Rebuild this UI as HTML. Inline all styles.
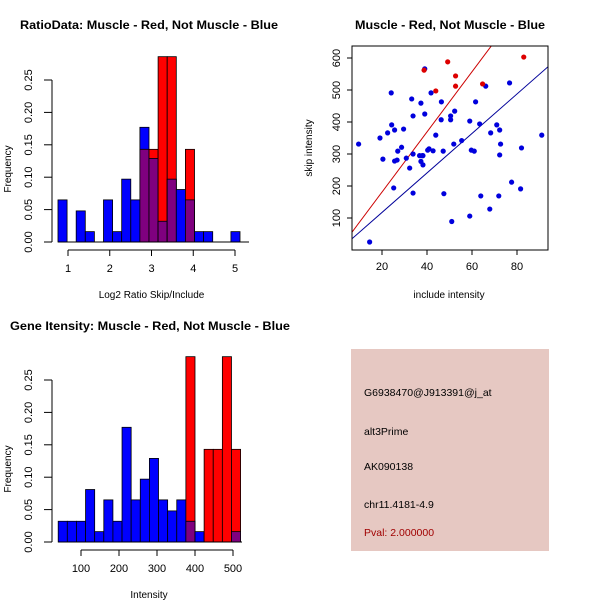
<!DOCTYPE html>
<html><head><meta charset="utf-8"><style>
html,body{margin:0;padding:0;background:#fff;}
svg{display:block;font-family:"Liberation Sans",sans-serif;}
</style></head><body>
<svg id="c" width="600" height="600" viewBox="0 0 600 600">
<rect width="600" height="600" fill="#fff"/>
<text x="149" y="29" text-anchor="middle" font-weight="bold" font-size="12" textLength="258" lengthAdjust="spacingAndGlyphs">RatioData: Muscle - Red, Not Muscle - Blue</text>
<text x="450" y="29" text-anchor="middle" font-weight="bold" font-size="12" textLength="190" lengthAdjust="spacingAndGlyphs">Muscle - Red, Not Muscle - Blue</text>
<text x="150" y="330" text-anchor="middle" font-weight="bold" font-size="12" textLength="280" lengthAdjust="spacingAndGlyphs">Gene Itensity: Muscle - Red, Not Muscle - Blue</text>
<g id="h1"></g>
<g id="h2"></g>
<g id="sc"></g>
<g>
<rect x="351" y="349" width="198" height="202" fill="#e6c8c2"/>
<text x="364" y="396" font-size="10.5">G6938470@J913391@j_at</text>
<text x="364" y="435" font-size="10.5">alt3Prime</text>
<text x="364" y="470" font-size="10.5">AK090138</text>
<text x="364" y="508" font-size="10.5">chr11.4181-4.9</text>
<text x="364" y="536" font-size="10.5" fill="#a00000">Pval: 2.000000</text>
</g>
</svg>
<script>
const ratioStart = 0.76, ratioWidth = 0.218;
const ratioBlue = [0.065,0,0.048,0.016,0,0.065,0.016,0.097,0.065,0.177,0.129,0.032,0.097,0.081,0.065,0.016,0.016,0,0,0.016];
const ratioRed  = [0,0,0,0,0,0,0,0,0,0.143,0.143,0.286,0.286,0,0.143,0,0,0,0,0];
const ratioTicks = [1,2,3,4,5];
const intStart = 40, intWidth = 24;
const intBlue = [0.032,0.032,0.032,0.081,0.016,0.065,0.032,0.177,0.065,0.097,0.129,0.065,0.048,0.065,0.032,0.016,0,0,0,0.016];
const intRed  = [0,0,0,0,0,0,0,0,0,0,0,0,0,0,0.286,0,0.143,0.143,0.286,0.143];
const intTicks = [100,200,300,400,500];
const freqTicks = [0,0.05,0.10,0.15,0.20,0.25];
const freqLabels = ["0.00","0.05","0.10","0.15","0.20","0.25"];
const blueX = [9.6,14.5,20.4,19.1,22.5,24.1,24.3,25.2,25.6,25.6,26.7,27,28.7,29.6,30.8,32.3,33.2,33.8,33.8,33.8,36.7,37.3,37.3,37.9,38.2,38.2,39,39,40.3,40.9,41.8,42.7,43.9,46.4,46.3,47.2,47.5,50.5,50.5,51,51.9,52.3,55.4,59,59,59.7,61,61.6,63.4,63.9,66.1,67.9,68.3,71,72.3,71.9,72.7,72.3,76.7,77.6,81.6,82,91];
const blueY = [331,25,284,350,366,491,391,194,375,278,281,309,321,378,287,256,472,419,300,178,295,459,277,295,266,295,566,425,312,316,491,310,359,463,407,309,176,419,407,89,331,434,342,403,106,312,309,463,394,169,512,128,366,391,375,169,331,297,522,212,191,319,359];
const redX = [38.7,43.9,49.2,52.7,52.7,64.7,83];
const redY = [562,497,588,544,512,519,603];
const redLine = [-7, 9.4];
const blueLine = [-6, 6.17];
const scXTicks = [20,40,60,80];
const scYTicks = [100,200,300,400,500,600];
const NS = "http://www.w3.org/2000/svg";
function mk(parent, tag, attrs){const e=document.createElementNS(NS,tag);for(const k in attrs)e.setAttribute(k,attrs[k]);parent.appendChild(e);return e;}
function txt(parent, x, y, s, size, rot){const t=mk(parent,'text',{x:x,y:y,'font-size':size,'text-anchor':'middle'});if(rot)t.setAttribute('transform','rotate(-90 '+x+' '+y+')');t.textContent=s;return t;}

function hist(g, o){
  const sx=v=>o.x0+(v-o.xv0)*o.xs, sy=v=>o.y0-v*o.ys;
  for(let i=0;i<o.blue.length;i++){
    const a=o.start+i*o.width, b=a+o.width, x=sx(a), w=sx(b)-x;
    const bv=o.blue[i], rv=o.red[i], m=Math.min(bv,rv);
    if(bv>0){const r=mk(g,'rect',{x:x,y:sy(bv),width:w,height:sy(0)-sy(bv),fill:'#0000ff',stroke:'#000','stroke-width':0.8});
      
      }
    if(rv>0){const r=mk(g,'rect',{x:x,y:sy(rv),width:w,height:sy(0)-sy(rv),fill:'#ff0000',stroke:'#000','stroke-width':0.8});
      
      }
    if(m>0){const r=mk(g,'rect',{x:x,y:sy(m),width:w,height:sy(0)-sy(m),fill:'#7f007f',stroke:'#000','stroke-width':0.8});
      
      }
  }
  const xa=mk(g,'g',{});
  
  
  const xt=o.ticks;
  mk(xa,'line',{x1:sx(xt[0]),x2:sx(xt[xt.length-1]),y1:o.axY,y2:o.axY,stroke:'#000'});
  xt.forEach(v=>{mk(xa,'line',{x1:sx(v),x2:sx(v),y1:o.axY,y2:o.axY+6,stroke:'#000'});txt(xa,sx(v),o.axY+22,String(v),11);});
  const xl=txt(g,(sx(xt[0])+sx(xt[xt.length-1]))/2+o.lblShift,o.axY+48,o.xlabel,10);
  
  
  const ya=mk(g,'g',{});
  
  
  mk(ya,'line',{x1:o.x0,x2:o.x0+o.yax,y1:sy(0),y2:sy(0),stroke:'#000'});
  freqTicks.forEach((v,i)=>{mk(ya,'line',{x1:44,x2:52,y1:sy(v),y2:sy(v),stroke:'#000'});});
  mk(ya,'line',{x1:52,x2:52,y1:sy(0),y2:sy(0.25),stroke:'#000'});
  freqTicks.forEach((v,i)=>{txt(ya,32,sy(v),freqLabels[i],11,true);});
  const yl=txt(g,11,sy(0.125)+8,'Frequency',10,true);
  
  
}
hist(document.getElementById('h1'),{start:ratioStart,width:ratioWidth,blue:ratioBlue,red:ratioRed,ticks:ratioTicks,xv0:1,x0:68,xs:41.75,y0:242,ys:648,axY:250,xlabel:'Log2 Ratio Skip/Include',lblShift:0,yax:0});
hist(document.getElementById('h2'),{start:intStart,width:intWidth,blue:intBlue,red:intRed,ticks:intTicks,xv0:100,x0:81,xs:0.38,y0:542,ys:648,axY:550,xlabel:'Intensity',lblShift:-8,yax:0});
// fix baseline lines of histograms
[['h1',242,58,249],['h2',542,58,242]].forEach(([id,y,a,b])=>{mk(document.getElementById(id),'line',{x1:a,x2:b,y1:y,y2:y,stroke:'#000'});});

(function(){
  const g=document.getElementById('sc');
  const L=352,R=548,T=46,B=250;
  const sx=v=>382+(v-20)*2.25, sy=v=>218-(v-100)*0.32;
  const cp=mk(g,'clipPath',{id:'scclip'});mk(cp,'rect',{x:L,y:T,width:R-L,height:B-T});
  const lines=mk(g,'g',{'clip-path':'url(#scclip)'});
  const xa=4,xb=100;
  const rl=mk(lines,'line',{x1:sx(xa),y1:sy(redLine[0]+redLine[1]*xa),x2:sx(xb),y2:sy(redLine[0]+redLine[1]*xb),stroke:'#cc0000','stroke-width':1});
  
  
  const bl=mk(lines,'line',{x1:sx(xa),y1:sy(blueLine[0]+blueLine[1]*xa),x2:sx(xb),y2:sy(blueLine[0]+blueLine[1]*xb),stroke:'#000099','stroke-width':1});
  
  
  blueX.forEach((x,i)=>{const c=mk(g,'circle',{cx:sx(x),cy:sy(blueY[i]),r:2.6,fill:'#0000dd'});
    
    });
  redX.forEach((x,i)=>{const c=mk(g,'circle',{cx:sx(x),cy:sy(redY[i]),r:2.6,fill:'#dd0000'});
    
    });
  const box=mk(g,'rect',{x:L,y:T,width:R-L,height:B-T,fill:'none',stroke:'#000'});
  
  
  const xg=mk(g,'g',{});
  
  
  scXTicks.forEach(v=>{mk(xg,'line',{x1:sx(v),x2:sx(v),y1:B,y2:B+5,stroke:'#000'});txt(xg,sx(v),B+20,String(v),11);});
  const yg=mk(g,'g',{});
  
  
  scYTicks.forEach(v=>{mk(yg,'line',{x1:L-5,x2:L,y1:sy(v),y2:sy(v),stroke:'#000'});txt(yg,L-12,sy(v),String(v),11,true);});
  const xl=txt(g,449,298,'include intensity',10);
  
  
  const yl=txt(g,312,148,'skip intensity',10,true);
  
  
})();
</script>
</body></html>
